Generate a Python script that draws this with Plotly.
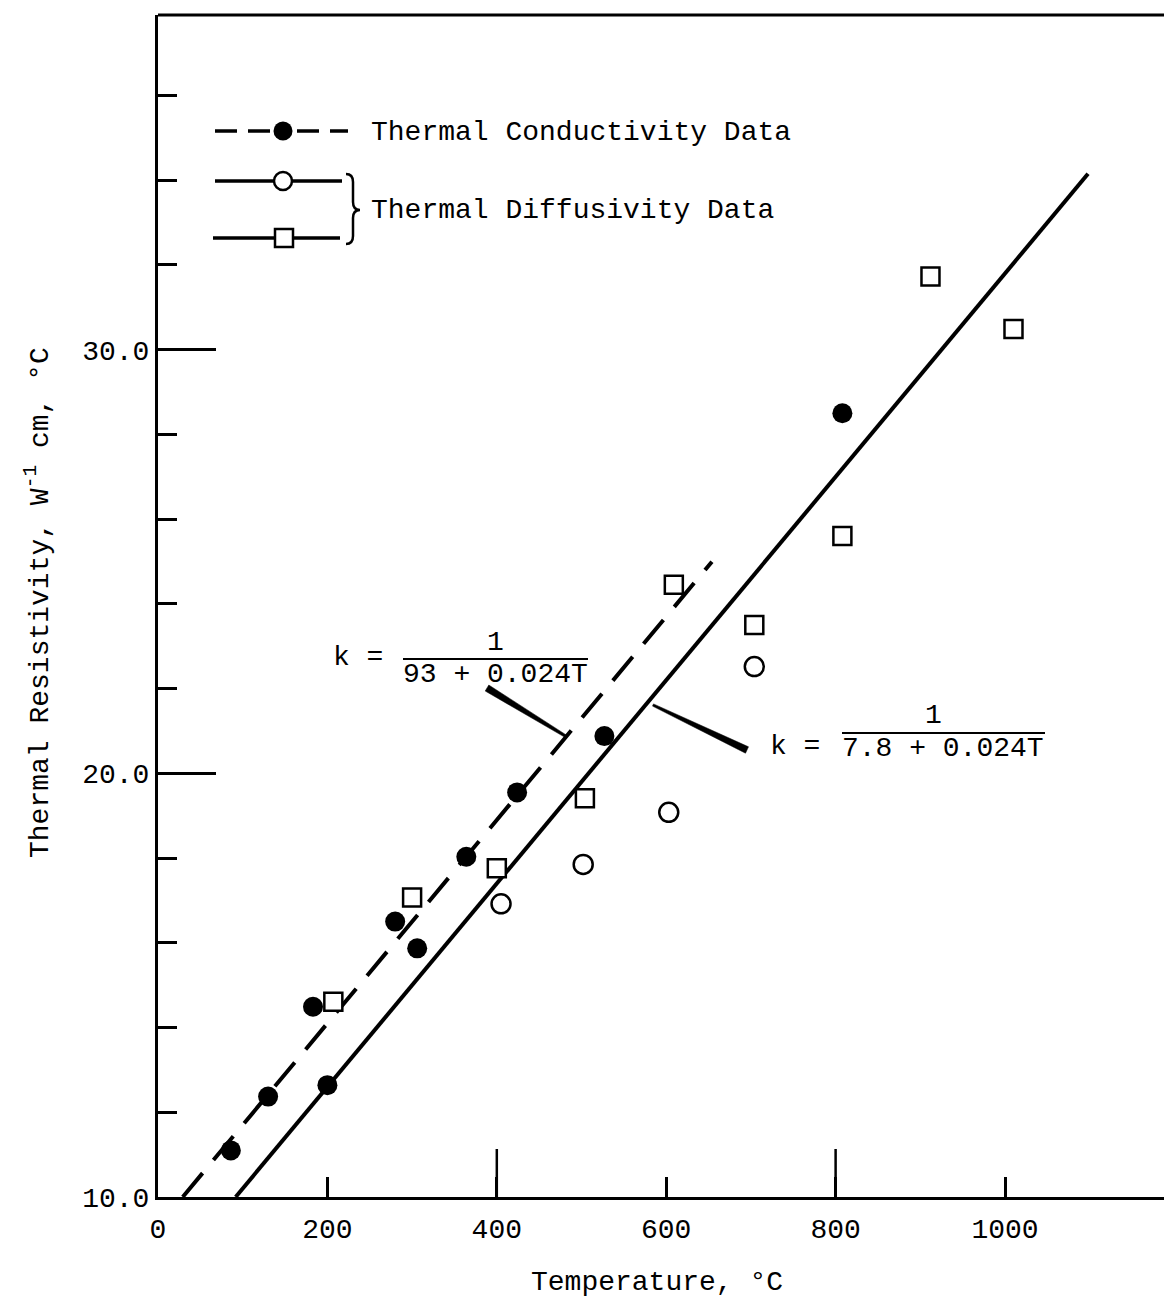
import plotly.graph_objects as go

# ---------------------------------------------------------------------------
# Data: thermal resistivity (W^-1 cm °C) versus temperature (°C)
# ---------------------------------------------------------------------------
# Thermal conductivity measurements (filled circles)
cond_T = [86, 130, 200, 183, 280, 306, 364, 424, 527, 808]
cond_R = [11.10, 12.37, 12.64, 14.49, 16.50, 15.87, 18.03, 19.55, 20.88, 28.50]

# Thermal diffusivity measurements, open-circle series
diffc_T = [405, 502, 603, 704]
diffc_R = [16.92, 17.85, 19.08, 22.52]

# Thermal diffusivity measurements, open-square series
diffs_T = [207, 300, 400, 504, 609, 704, 808, 912, 1010]
diffs_R = [14.61, 17.07, 17.76, 19.41, 24.45, 23.50, 25.60, 31.73, 30.49]

# Fitted lines 1/k = a + b*T  (conductivity fit dashed, diffusivity fit solid)
cond_fit_a, cond_fit_b = 9.3, 0.024
cond_fit_T = [29.2, 654]
diff_fit_a, diff_fit_b = 7.8, 0.024
diff_fit_T = [91.7, 1098]

# Axis ticks
x_ticks = [0, 200, 400, 600, 800, 1000]
x_long_ticks = [400, 800]
y_ticks = [10, 20, 30]
y_tick_text = ["10.0", "20.0", "30.0"]
y_minor = [12, 14, 16, 18, 22, 24, 26, 28, 32, 34, 36]

# ---------------------------------------------------------------------------
# Layout geometry (pixels)
# ---------------------------------------------------------------------------
W, H = 1164, 1300
ML, MR, MT, MB = 158, 0, 15, 103
X_RANGE = [0, 1187.7]
Y_RANGE = [10, 37.9]
FONT = "Liberation Mono"
FS = 28
INK = "black"


def paper_x(px):
    return (px - ML) / (W - ML - MR)


def paper_y(py):
    return (H - MB - py) / (H - MB - MT)


def tapered(p0, p1, w0, w1):
    """Closed SVG path for a leader line that tapers from width w0 to w1."""
    dx, dy = p1[0] - p0[0], p1[1] - p0[1]
    n = (dx * dx + dy * dy) ** 0.5
    nx, ny = -dy / n, dx / n
    pts = [
        (p0[0] + nx * w0 / 2, p0[1] + ny * w0 / 2),
        (p1[0] + nx * w1 / 2, p1[1] + ny * w1 / 2),
        (p1[0] - nx * w1 / 2, p1[1] - ny * w1 / 2),
        (p0[0] - nx * w0 / 2, p0[1] - ny * w0 / 2),
    ]
    return "M " + " L ".join(f"{x:.1f},{y:.1f}" for x, y in pts) + " Z"


fig = go.Figure()

# Fitted lines
fig.add_trace(go.Scatter(
    x=cond_fit_T, y=[cond_fit_a + cond_fit_b * t for t in cond_fit_T],
    mode="lines", line=dict(color=INK, width=4, dash="31px,17px"),
    hoverinfo="skip", showlegend=False))
fig.add_trace(go.Scatter(
    x=diff_fit_T, y=[diff_fit_a + diff_fit_b * t for t in diff_fit_T],
    mode="lines", line=dict(color=INK, width=4),
    hoverinfo="skip", showlegend=False))

# Measurements
fig.add_trace(go.Scatter(
    x=cond_T, y=cond_R, mode="markers",
    marker=dict(symbol="circle", size=20, color=INK, line=dict(width=0)),
    showlegend=False))
fig.add_trace(go.Scatter(
    x=diffc_T, y=diffc_R, mode="markers",
    marker=dict(symbol="circle", size=19, color="white",
                line=dict(color=INK, width=2.5)),
    showlegend=False))
fig.add_trace(go.Scatter(
    x=diffs_T, y=diffs_R, mode="markers",
    marker=dict(symbol="square", size=18, color="white",
                line=dict(color=INK, width=2.5)),
    showlegend=False))

# Hand-drawn key, placed on a pixel-scaled overlay (x3 / y3)
key = dict(xaxis="x3", yaxis="y3", hoverinfo="skip", showlegend=False)
fig.add_trace(go.Scatter(x=[215, 271], y=[131, 131], mode="lines",
                         line=dict(color=INK, width=3.5, dash="22px,11px"), **key))
fig.add_trace(go.Scatter(x=[297, 348], y=[131, 131], mode="lines",
                         line=dict(color=INK, width=3.5, dash="22px,11px"), **key))
fig.add_trace(go.Scatter(x=[215, 342], y=[181, 181], mode="lines",
                         line=dict(color=INK, width=3.5), **key))
fig.add_trace(go.Scatter(x=[213, 340], y=[238, 238], mode="lines",
                         line=dict(color=INK, width=3.5), **key))
fig.add_trace(go.Scatter(x=[283], y=[131], mode="markers",
                         marker=dict(symbol="circle", size=19, color=INK), **key))
fig.add_trace(go.Scatter(x=[283], y=[181], mode="markers",
                         marker=dict(symbol="circle", size=18, color="white",
                                     line=dict(color=INK, width=2.5)), **key))
fig.add_trace(go.Scatter(x=[284], y=[238], mode="markers",
                         marker=dict(symbol="square", size=18, color="white",
                                     line=dict(color=INK, width=2.5)), **key))

shapes = []
# top edge of the frame
shapes.append(dict(type="line", xref="paper", yref="paper", x0=0, x1=1, y0=1, y1=1,
                   line=dict(color=INK, width=3)))
# long inward ticks on the temperature axis
for xv in x_long_ticks:
    shapes.append(dict(type="line", xref="x", yref="paper", x0=xv, x1=xv,
                       y0=0, y1=48 / (H - MB - MT), line=dict(color=INK, width=2.5)))
# brace grouping the two diffusivity symbols
shapes.append(dict(
    type="path", xref="x3", yref="y3",
    path="M 346,174 Q 353,174 353,182 L 353,202 Q 353,210 360,210 "
         "Q 353,210 353,218 L 353,236 Q 353,244 346,244",
    line=dict(color=INK, width=2.5)))
# fraction bars
shapes.append(dict(type="line", xref="x3", yref="y3", x0=403, x1=588, y0=659, y1=659,
                   line=dict(color=INK, width=2)))
shapes.append(dict(type="line", xref="x3", yref="y3", x0=842, x1=1045, y0=733, y1=733,
                   line=dict(color=INK, width=2)))
# tapered leaders from the equations to the lines
shapes.append(dict(type="path", xref="x3", yref="y3",
                   path=tapered((487, 688), (567, 737), 7, 2.5),
                   fillcolor=INK, line=dict(color=INK, width=0.5)))
shapes.append(dict(type="path", xref="x3", yref="y3",
                   path=tapered((653, 705), (747, 750), 2.5, 7),
                   fillcolor=INK, line=dict(color=INK, width=0.5)))

font = dict(family=FONT, size=FS, color=INK)
annotations = []


def label(text, x, y, xanchor="center", ref="x3"):
    annotations.append(dict(
        text=text, x=x, y=y, xref=ref, yref=ref.replace("x", "y"),
        xanchor=xanchor, yanchor="middle", showarrow=False, font=font))


label("Thermal Conductivity Data", 369, 132, xanchor="left")
label("Thermal Diffusivity Data", 369, 210, xanchor="left")
label("k =", 358, 657)
label("1", 495, 642)
label("93 + 0.024T", 495, 674)
label("k =", 795, 746)
label("1", 933, 715)
label("7.8 + 0.024T", 943, 748)

annotations.append(dict(text="Temperature, °C", x=paper_x(657), y=paper_y(1282),
                        xref="paper", yref="paper", xanchor="center", yanchor="middle",
                        showarrow=False, font=font))
annotations.append(dict(text="Thermal Resistivity, W<sup>-1</sup> cm, °C",
                        x=paper_x(38), y=paper_y(603), xref="paper", yref="paper",
                        xanchor="center", yanchor="middle", textangle=-90,
                        showarrow=False, font=font))

fig.update_layout(
    width=W, height=H,
    margin=dict(l=ML, r=MR, t=MT, b=MB, pad=0),
    paper_bgcolor="white", plot_bgcolor="white",
    font=font,
    showlegend=False,
    xaxis=dict(range=X_RANGE, showgrid=False, zeroline=False,
               showline=True, linecolor=INK, linewidth=3,
               tickmode="array", tickvals=x_ticks,
               ticks="inside", ticklen=20, tickwidth=2.5, tickcolor=INK,
               ticklabelstandoff=4, tickfont=font),
    yaxis=dict(range=Y_RANGE, showgrid=False, zeroline=False,
               showline=True, linecolor=INK, linewidth=3,
               tickmode="array", tickvals=y_ticks, ticktext=y_tick_text,
               ticks="inside", ticklen=58, tickwidth=2.5, tickcolor=INK,
               ticklabelstandoff=0, tickfont=font,
               minor=dict(tickmode="array", tickvals=y_minor, ticks="inside",
                          ticklen=19, tickwidth=2.5, tickcolor=INK, showgrid=False)),
    xaxis3=dict(range=[ML, W], overlaying="x", anchor="y3", visible=False),
    yaxis3=dict(range=[H - MB, MT], overlaying="y", anchor="x3", visible=False),
    shapes=shapes,
    annotations=annotations,
)

fig.write_html("out.html")
